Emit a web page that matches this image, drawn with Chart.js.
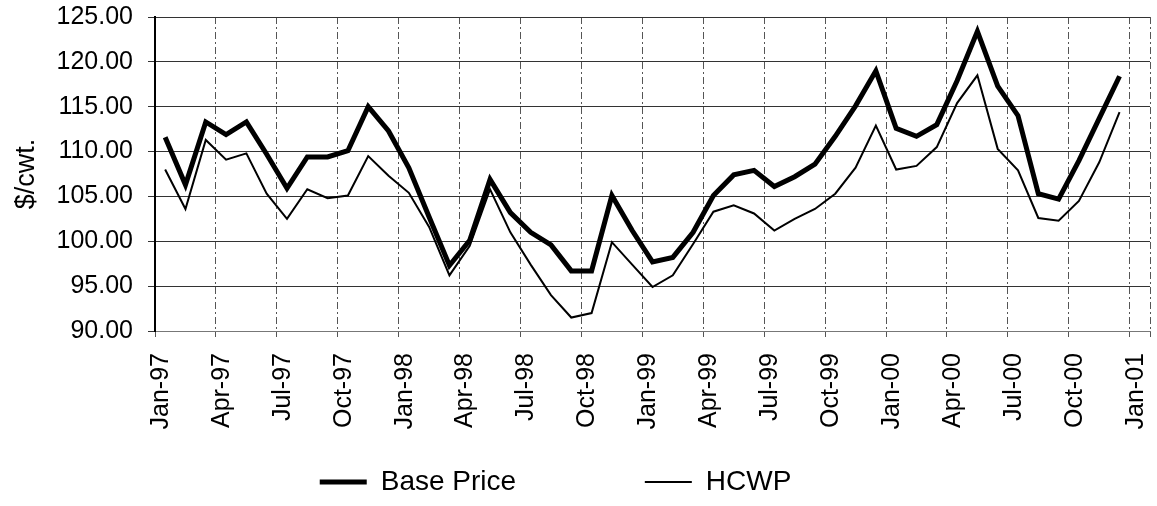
<!DOCTYPE html>
<html>
<head>
<meta charset="utf-8">
<script src="https://cdn.jsdelivr.net/npm/chart.js@4"></script>
<style>
  html, body { margin: 0; padding: 0; background: #fff; }
  #wrap { width: 1157px; height: 506px; }
</style>
</head>
<body>
<div id="wrap"><canvas id="priceChart"></canvas></div>
<script>
// monthly observations, Jan-97 .. Dec-00
const months = [
  'Jan-97','Feb-97','Mar-97','Apr-97','May-97','Jun-97','Jul-97','Aug-97','Sep-97','Oct-97','Nov-97','Dec-97',
  'Jan-98','Feb-98','Mar-98','Apr-98','May-98','Jun-98','Jul-98','Aug-98','Sep-98','Oct-98','Nov-98','Dec-98',
  'Jan-99','Feb-99','Mar-99','Apr-99','May-99','Jun-99','Jul-99','Aug-99','Sep-99','Oct-99','Nov-99','Dec-99',
  'Jan-00','Feb-00','Mar-00','Apr-00','May-00','Jun-00','Jul-00','Aug-00','Sep-00','Oct-00','Nov-00','Dec-00'
];
const basePrice = [
  111.6, 106.3, 113.3, 111.9, 113.3, 109.7, 105.9, 109.4, 109.4, 110.1, 115.0, 112.3,
  108.2, 102.7, 97.3, 100.1, 106.9, 103.2, 101.0, 99.6, 96.7, 96.7, 105.1, 101.2,
  97.7, 98.2, 101.0, 105.1, 107.4, 107.9, 106.1, 107.2, 108.6, 111.7, 115.1, 119.0,
  112.6, 111.7, 113.0, 117.9, 123.4, 117.3, 114.0, 105.3, 104.7, 109.0, 113.7, 118.4
];
const hcwp = [
  108.0, 103.6, 111.3, 109.1, 109.8, 105.3, 102.5, 105.8, 104.8, 105.1, 109.5, 107.3,
  105.4, 101.6, 96.2, 99.5, 105.8, 101.0, 97.4, 94.0, 91.5, 92.0, 99.9, 97.4,
  94.9, 96.2, 99.7, 103.3, 104.0, 103.1, 101.2, 102.5, 103.6, 105.3, 108.2, 112.9,
  108.0, 108.4, 110.5, 115.4, 118.5, 110.3, 107.9, 102.6, 102.3, 104.5, 108.8, 114.4
];
// quarterly axis labels
const tickLabels = [
  'Jan-97','Apr-97','Jul-97','Oct-97','Jan-98','Apr-98','Jul-98','Oct-98',
  'Jan-99','Apr-99','Jul-99','Oct-99','Jan-00','Apr-00','Jul-00','Oct-00','Jan-01'
];
const yTicks = [90, 95, 100, 105, 110, 115, 120, 125];

// points sit in the middle of each month
function toPoints(arr) {
  return arr.map((v, i) => ({ x: i + 0.5, y: v, label: months[i] }));
}

const FONT = "'Liberation Sans', Arial, sans-serif";

function noPadding(scale) {
  scale.paddingLeft = 0;
  scale.paddingRight = 0;
  scale.paddingTop = 0;
  scale.paddingBottom = 0;
}

new Chart(document.getElementById('priceChart'), {
  type: 'line',
  data: {
    datasets: [
      {
        label: 'Base Price',
        data: toPoints(basePrice),
        borderColor: '#000',
        backgroundColor: '#000',
        borderWidth: 5,
        pointRadius: 0,
        tension: 0
      },
      {
        label: 'HCWP',
        data: toPoints(hcwp),
        borderColor: '#000',
        backgroundColor: '#000',
        borderWidth: 2,
        pointRadius: 0,
        tension: 0
      }
    ]
  },
  options: {
    responsive: true,
    maintainAspectRatio: false,
    animation: false,
    layout: { padding: { top: 17, right: 7, left: 0, bottom: 0 } },
    plugins: {
      tooltip: { enabled: false },
      legend: {
        position: 'bottom',
        labels: {
          color: '#000',
          font: { family: FONT, size: 28 },
          usePointStyle: true,
          pointStyle: 'line',
          pointStyleWidth: 47,
          padding: 12,
          generateLabels: function (chart) {
            const items = Chart.defaults.plugins.legend.labels.generateLabels(chart);
            // wide gap between the two entries, row pulled a little left
            items[0].text += '\u00a0'.repeat(15);
            items[1].text += '\u00a0'.repeat(5);
            return items;
          }
        }
      }
    },
    scales: {
      x: {
        type: 'linear',
        min: 0,
        max: 49,
        afterBuildTicks: function (scale) {
          const t = tickLabels.map((_, i) => ({ value: i * 3 }));
          t.push({ value: 49 });
          scale.ticks = t;
        },
        afterFit: function (scale) {
          scale.height = 125;
          noPadding(scale);
        },
        ticks: {
          autoSkip: false,
          maxRotation: 90,
          minRotation: 90,
          padding: 16,
          labelOffset: 6,
          color: '#000',
          font: { family: FONT, size: 25 },
          callback: function (value) {
            return value % 3 === 0 ? tickLabels[value / 3] : '';
          }
        },
        grid: {
          color: '#555',
          lineWidth: 1,
          tickLength: 6,
          tickColor: '#555'
        },
        border: { color: '#777', width: 1, dash: [7, 3, 2, 3] }
      },
      y: {
        min: 90,
        max: 125,
        afterBuildTicks: function (scale) {
          scale.ticks = yTicks.map(v => ({ value: v }));
        },
        afterFit: function (scale) {
          scale.width = 155;
          noPadding(scale);
        },
        title: {
          display: true,
          text: '$/cwt.',
          color: '#000',
          font: { family: FONT, size: 27 },
          padding: { top: 10, bottom: 0 }
        },
        ticks: {
          autoSkip: false,
          padding: 15,
          color: '#000',
          font: { family: FONT, size: 25 },
          callback: function (value) { return value.toFixed(2); }
        },
        grid: {
          color: '#333',
          lineWidth: 1,
          tickLength: 7,
          tickColor: '#333'
        },
        border: { color: '#000', width: 2 }
      }
    }
  }
});
</script>
</body>
</html>
